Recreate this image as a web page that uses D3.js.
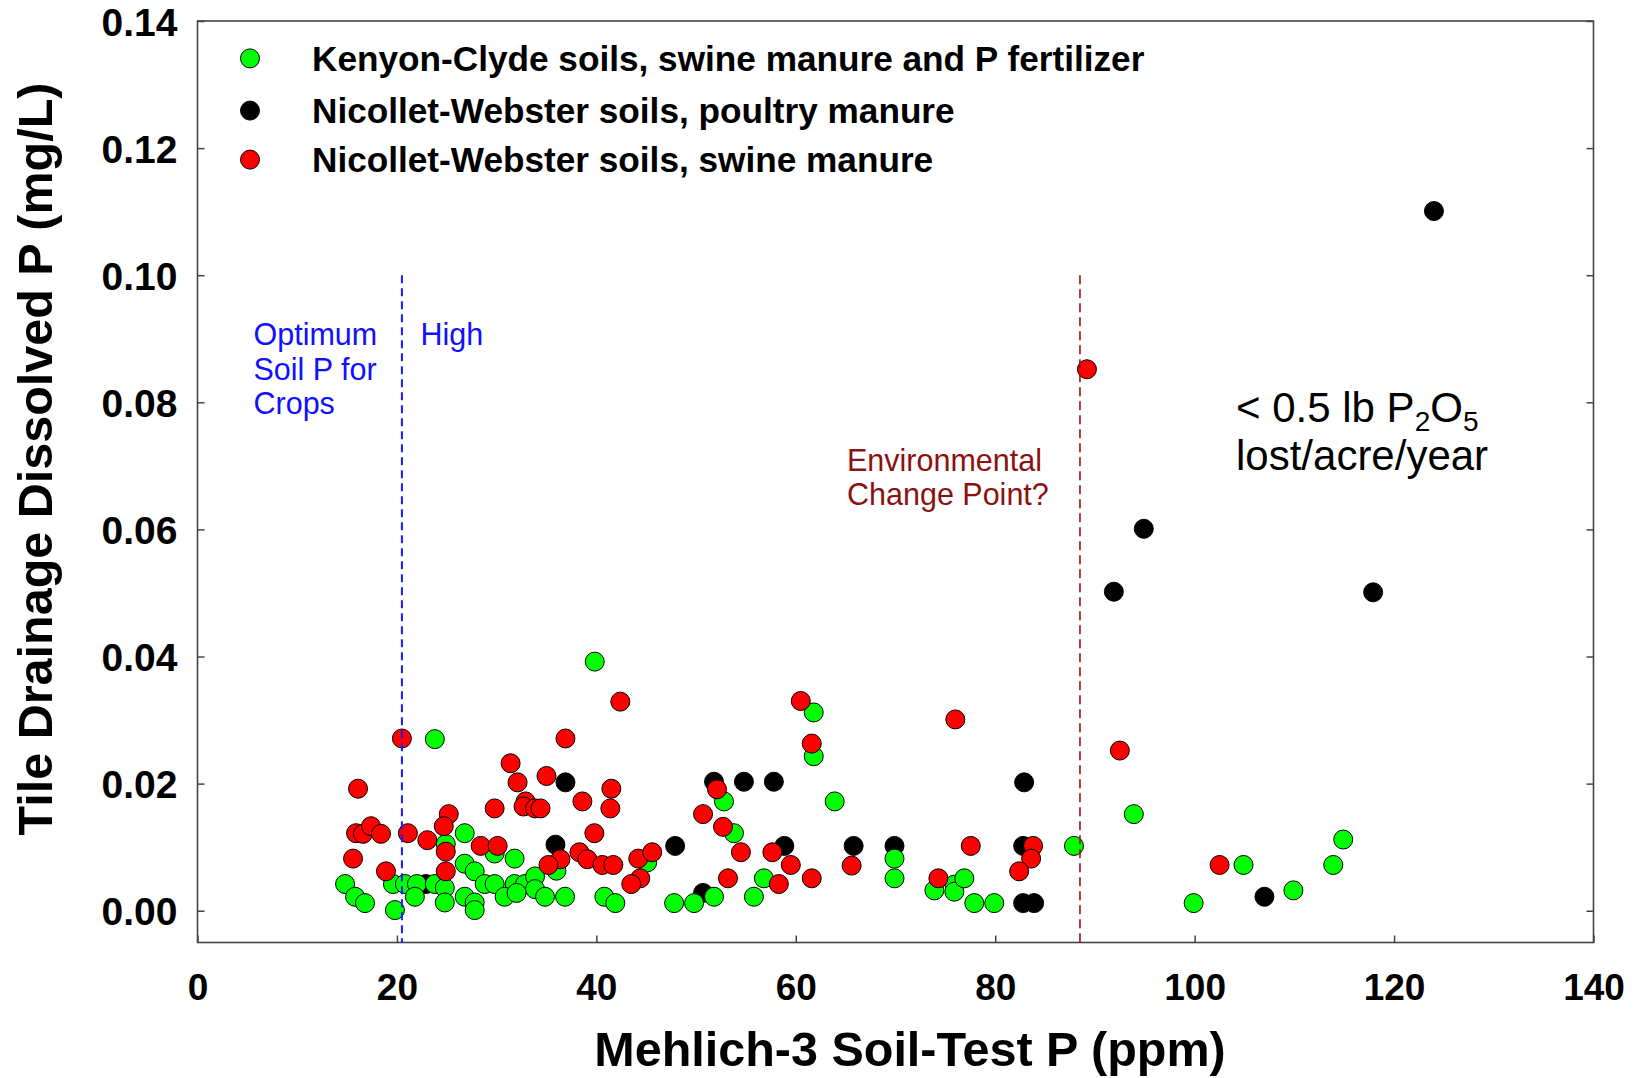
<!DOCTYPE html>
<html>
<head>
<meta charset="utf-8">
<script src="https://cdn.jsdelivr.net/npm/d3@7"></script>
<style>
  html, body { margin: 0; padding: 0; background: #fff; }
  svg { display: block; }
  text { font-family: "Liberation Sans", Arial, sans-serif; }
</style>
</head>
<body>
<svg id="chart" width="1636" height="1078"></svg>
<script>
// ---------- DATA ----------
const seriesNames = [
  "Kenyon-Clyde soils, swine manure and P fertilizer",
  "Nicollet-Webster soils, poultry manure",
  "Nicollet-Webster soils, swine manure"
];
const seriesColors = ["#00ff00", "#000000", "#ff0000"];

// Kenyon-Clyde (green): [Mehlich-3 P ppm, dissolved P mg/L]
const kenyonClyde = [
  [23.8,0.0270],[26.8,0.0122],[24.9,0.0105],[29.8,0.0090],[31.8,0.0082],[36.0,0.0063],
  [26.8,0.0074],[27.8,0.0062],[14.8,0.0042],[15.8,0.0022],[16.8,0.0012],[19.8,0.0001],
  [19.6,0.0042],[20.8,0.0042],[22.0,0.0042],[23.8,0.0042],[24.8,0.0036],[21.8,0.0022],
  [24.8,0.0013],[26.8,0.0022],[27.8,0.0013],[27.8,0.0001],[28.8,0.0042],[29.8,0.0042],
  [31.8,0.0042],[32.85,0.0042],[33.85,0.0054],[33.85,0.0034],[30.8,0.0022],[34.85,0.0022],
  [36.86,0.0022],[39.84,0.0392],[32.0,0.0028],
  [61.8,0.0312],[61.8,0.0243],[52.8,0.0172],[53.8,0.0122],[56.8,0.0051],[55.8,0.0022],
  [47.8,0.0012],[49.8,0.0012],[51.8,0.0022],[40.8,0.0022],[41.9,0.0012],[45.1,0.0076],
  [63.9,0.0172],[69.9,0.0082],[69.9,0.0051],[73.9,0.0032],[75.9,0.0041],[75.9,0.0030],
  [76.9,0.0051],[77.9,0.0012],[79.9,0.0012],
  [93.9,0.0152],[87.9,0.0102],[104.9,0.0072],[99.9,0.0012],[109.9,0.0032],[114.9,0.0112],
  [113.9,0.0072]
];

// Nicollet-Webster, poultry manure (black)
const nwPoultry = [
  [36.9,0.0202],[35.9,0.0104],[22.9,0.0042],[51.8,0.0203],[54.8,0.0203],[57.8,0.0203],
  [47.9,0.0102],[58.85,0.0102],[50.7,0.0028],[65.8,0.0102],[69.9,0.0102],[82.9,0.0202],
  [82.8,0.0102],[82.8,0.0012],[83.9,0.0012],[107.0,0.0022],[117.9,0.0501],[124.0,0.1101],
  [94.9,0.0601],[91.9,0.0502]
];

// Nicollet-Webster, swine manure (red)
const nwSwine = [
  [20.5,0.0271],[36.9,0.0271],[31.4,0.0232],[32.1,0.0202],[35.0,0.0212],[16.1,0.0192],
  [29.8,0.0161],[32.9,0.0172],[32.7,0.0164],[33.85,0.0161],[34.4,0.0161],[38.6,0.0172],
  [25.2,0.0152],[24.7,0.0133],[15.9,0.0122],[16.6,0.0121],[17.4,0.0133],[18.4,0.0121],
  [21.1,0.0122],[23.05,0.0111],[24.9,0.0093],[28.4,0.0102],[30.1,0.0102],[36.4,0.0081],
  [35.2,0.0072],[15.6,0.0082],[18.9,0.0062],[24.9,0.0062],
  [42.4,0.0329],[60.5,0.0330],[61.6,0.0263],[41.5,0.0192],[41.4,0.0161],[39.8,0.0122],
  [52.1,0.0191],[50.7,0.0152],[52.7,0.0132],[54.5,0.0092],[57.65,0.0092],[59.5,0.0072],
  [61.6,0.0051],[58.3,0.0042],[53.2,0.0051],[38.3,0.0092],[39.1,0.0081],[40.6,0.0072],
  [41.7,0.0072],[44.2,0.0082],[45.6,0.0092],[44.4,0.0051],[43.5,0.0042],
  [76.0,0.0301],[65.6,0.0071],[77.55,0.0102],[83.8,0.0102],[83.6,0.0082],[82.4,0.0062],
  [74.3,0.0051],[89.2,0.0852],[92.5,0.0252],[102.5,0.0072]
];

const xTicks = [0, 20, 40, 60, 80, 100, 120, 140];
const yTicks = [0.00, 0.02, 0.04, 0.06, 0.08, 0.10, 0.12, 0.14];
const xDomain = [0, 140];
const yDomain = [-0.005, 0.14];

const optimumLine = 20.5;     // ppm
const changePointLine = 88.5; // ppm
const refLineTop = 0.10;

// ---------- DRAW ----------
const svg = d3.select("#chart");
const W = 1636, H = 1078;
const margin = { left: 197.5, right: W - 1593.5, top: 21, bottom: H - 942.5 };
const x = d3.scaleLinear().domain(xDomain).range([margin.left, W - margin.right]);
const y = d3.scaleLinear().domain(yDomain).range([H - margin.bottom, margin.top]);

svg.append("rect").attr("width", W).attr("height", H).attr("fill", "#fff");

// axes (inward ticks)
const xTickFont = "bold 37px 'Liberation Sans', Arial, sans-serif";
const yTickFont = "bold 39px 'Liberation Sans', Arial, sans-serif";

const gx = svg.append("g").attr("transform", `translate(0,${y.range()[0]})`)
  .call(d3.axisBottom(x).tickValues(xTicks).tickSize(-7).tickPadding(44).tickFormat(d3.format("d")));
const gy = svg.append("g").attr("transform", `translate(${x.range()[0]},0)`)
  .call(d3.axisLeft(y).tickValues(yTicks).tickSize(-7).tickPadding(20).tickFormat(d3.format(".2f")));
const gr = svg.append("g").attr("transform", `translate(${x.range()[1]},0)`)
  .call(d3.axisRight(y).tickValues(yTicks).tickSize(-7).tickFormat(""));

[gx, gy, gr].forEach(g => {
  g.select(".domain").remove();
  g.selectAll(".tick line").attr("stroke", "#444").attr("stroke-width", 1.5);
  g.selectAll(".tick text").attr("fill", "#000");
});
gx.selectAll(".tick text").style("font", xTickFont).attr("dy", "0em").attr("y", 57);
gy.selectAll(".tick text").style("font", yTickFont).attr("dy", "0.36em");

// frame
svg.append("rect")
  .attr("x", x.range()[0]).attr("y", y.range()[1])
  .attr("width", x.range()[1] - x.range()[0])
  .attr("height", y.range()[0] - y.range()[1])
  .attr("fill", "none").attr("stroke", "#444").attr("stroke-width", 1.6);

// points: black, then green, then red on top
const R = 9.5;
const layers = [
  { data: nwPoultry, color: seriesColors[1] },
  { data: kenyonClyde, color: seriesColors[0] },
  { data: nwSwine, color: seriesColors[2] }
];
layers.forEach(l => {
  svg.append("g").selectAll("circle").data(l.data).join("circle")
    .attr("cx", d => x(d[0])).attr("cy", d => y(d[1])).attr("r", R)
    .attr("fill", l.color).attr("stroke", "#000").attr("stroke-width", 1);
});

// reference lines
svg.append("line")
  .attr("x1", x(optimumLine)).attr("x2", x(optimumLine))
  .attr("y1", y(refLineTop)).attr("y2", y.range()[0])
  .attr("stroke", "#1a1aff").attr("stroke-width", 2).attr("stroke-dasharray", "8,5");
svg.append("line")
  .attr("x1", x(changePointLine)).attr("x2", x(changePointLine))
  .attr("y1", y(refLineTop)).attr("y2", y.range()[0])
  .attr("stroke", "#a01010").attr("stroke-width", 1.6).attr("stroke-dasharray", "9,5");

// legend
const legY = [58.4, 110.6, 159.6];
const leg = svg.append("g");
seriesNames.forEach((name, i) => {
  leg.append("circle").attr("cx", 250).attr("cy", legY[i]).attr("r", R)
    .attr("fill", seriesColors[i]).attr("stroke", "#000").attr("stroke-width", 1);
  leg.append("text").attr("x", 312).attr("y", legY[i] + 12.5)
    .style("font", "bold 35.2px 'Liberation Sans', Arial, sans-serif")
    .attr("fill", "#000").text(name);
});

// annotations
const annFont = "30.5px 'Liberation Sans', Arial, sans-serif";
["Optimum", "Soil P for", "Crops"].forEach((t, i) => {
  svg.append("text").attr("x", 253.5).attr("y", 345 + i * 34.5)
    .style("font", annFont).attr("fill", "#1010ff").text(t);
});
svg.append("text").attr("x", 420.5).attr("y", 345)
  .style("font", annFont).attr("fill", "#1010ff").text("High");

["Environmental", "Change Point?"].forEach((t, i) => {
  svg.append("text").attr("x", 847).attr("y", 471 + i * 34)
    .style("font", annFont).attr("fill", "#8b1010").text(t);
});

const bigFont = "42px 'Liberation Sans', Arial, sans-serif";
const t1 = svg.append("text").attr("x", 1236).attr("y", 421.5).style("font", bigFont).attr("fill", "#000");
t1.append("tspan").text("< 0.5 lb P");
t1.append("tspan").attr("dy", 9).style("font-size", "28px").text("2");
t1.append("tspan").attr("dy", -9).text("O");
t1.append("tspan").attr("dy", 9).style("font-size", "28px").text("5");
svg.append("text").attr("x", 1236).attr("y", 470).style("font", bigFont).attr("fill", "#000")
  .text("lost/acre/year");

// axis titles
svg.append("text").attr("x", 910).attr("y", 1066).attr("text-anchor", "middle")
  .style("font", "bold 48.5px 'Liberation Sans', Arial, sans-serif").attr("fill", "#000")
  .text("Mehlich-3 Soil-Test P (ppm)");
svg.append("text").attr("transform", "translate(52,459) rotate(-90)").attr("text-anchor", "middle")
  .style("font", "bold 48.5px 'Liberation Sans', Arial, sans-serif").attr("fill", "#000")
  .text("Tile Drainage Dissolved P (mg/L)");
</script>
</body>
</html>
